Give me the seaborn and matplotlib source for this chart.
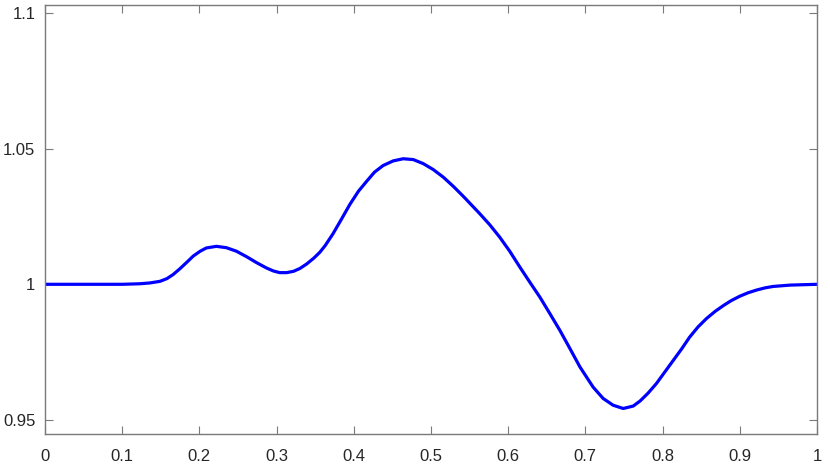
import seaborn as sns
import matplotlib.pyplot as plt
import pandas as pd

# points
x_vals = [0.0, 0.05, 0.10, 0.123, 0.136, 0.149, 0.158, 0.166, 0.175, 0.184,
          0.192, 0.201, 0.209, 0.222, 0.235, 0.248, 0.261, 0.274, 0.287, 0.296,
          0.304, 0.313, 0.322, 0.330, 0.339, 0.348, 0.356, 0.363, 0.373, 0.384,
          0.395, 0.406, 0.417, 0.427, 0.438, 0.451, 0.464, 0.477, 0.490, 0.503,
          0.516, 0.529, 0.542, 0.551, 0.563, 0.576, 0.589, 0.602, 0.615, 0.628,
          0.641, 0.654, 0.667, 0.680, 0.693, 0.710, 0.723, 0.736, 0.749, 0.762,
          0.771, 0.781, 0.792, 0.803, 0.814, 0.825, 0.835, 0.846, 0.857, 0.868,
          0.879, 0.889, 0.900, 0.911, 0.922, 0.933, 0.943, 0.965, 1.0]
y_vals = [1.0, 1.0, 1.0, 1.0002, 1.0005, 1.0011, 1.0021, 1.0036, 1.0058, 1.0082,
          1.0104, 1.0122, 1.0134, 1.0140, 1.0135, 1.0122, 1.0102, 1.0080, 1.0060, 1.0049,
          1.0043, 1.0043, 1.0048, 1.0058, 1.0075, 1.0096, 1.0118, 1.0143, 1.0186, 1.0240,
          1.0295, 1.0343, 1.0381, 1.0414, 1.0438, 1.0455, 1.0463, 1.0460, 1.0445, 1.0423,
          1.0395, 1.0361, 1.0324, 1.0297, 1.0261, 1.0220, 1.0174, 1.0122, 1.0064, 1.0008,
          0.9953, 0.9892, 0.9830, 0.9763, 0.9695, 0.9621, 0.9579, 0.9554, 0.9542, 0.9551,
          0.9570, 0.9598, 0.9634, 0.9677, 0.9720, 0.9763, 0.9805, 0.9843, 0.9874, 0.9900,
          0.9922, 0.9940, 0.9956, 0.9969, 0.9979, 0.9987, 0.9992, 0.9997, 1.0]

x_ticks = [0, 0.1, 0.2, 0.3, 0.4, 0.5, 0.6, 0.7, 0.8, 0.9, 1]
x_labels = ['0', '0.1', '0.2', '0.3', '0.4', '0.5', '0.6', '0.7', '0.8', '0.9', '1']
y_ticks = [0.95, 1.0, 1.05, 1.1]
y_labels = ['0.95', '1', '1.05', '1.1']

sns.set_style('white')
plt.rcParams['font.family'] = ['Liberation Sans', 'DejaVu Sans']

df = pd.DataFrame({'x': x_vals, 'y': y_vals})

fig = plt.figure(figsize=(8.3, 4.67), dpi=100)
ax = fig.add_axes([0.0542, 0.0707, 0.9301, 0.9186])
sns.lineplot(data=df, x='x', y='y', ax=ax, color='#0000ff', linewidth=2.3)
ax.lines[0].set_solid_joinstyle('round')

ax.set_xlim(0, 1)
ax.set_ylim(0.9448, 1.103)
ax.set_xticks(x_ticks)
ax.set_xticklabels(x_labels)
ax.set_yticks(y_ticks)
ax.set_yticklabels(y_labels)
ax.set_xlabel('')
ax.set_ylabel('')

for s in ax.spines.values():
    s.set_color('#7a7a7a')
    s.set_linewidth(1.0)
ax.tick_params(direction='in', length=5.5, width=0.8, color='#7a7a7a',
               labelsize=12, labelcolor='#262626', top=True, right=True,
               bottom=True, left=True)
ax.tick_params(axis='x', pad=11)
ax.tick_params(axis='y', pad=7)

fig.savefig('out.png', dpi=100)
